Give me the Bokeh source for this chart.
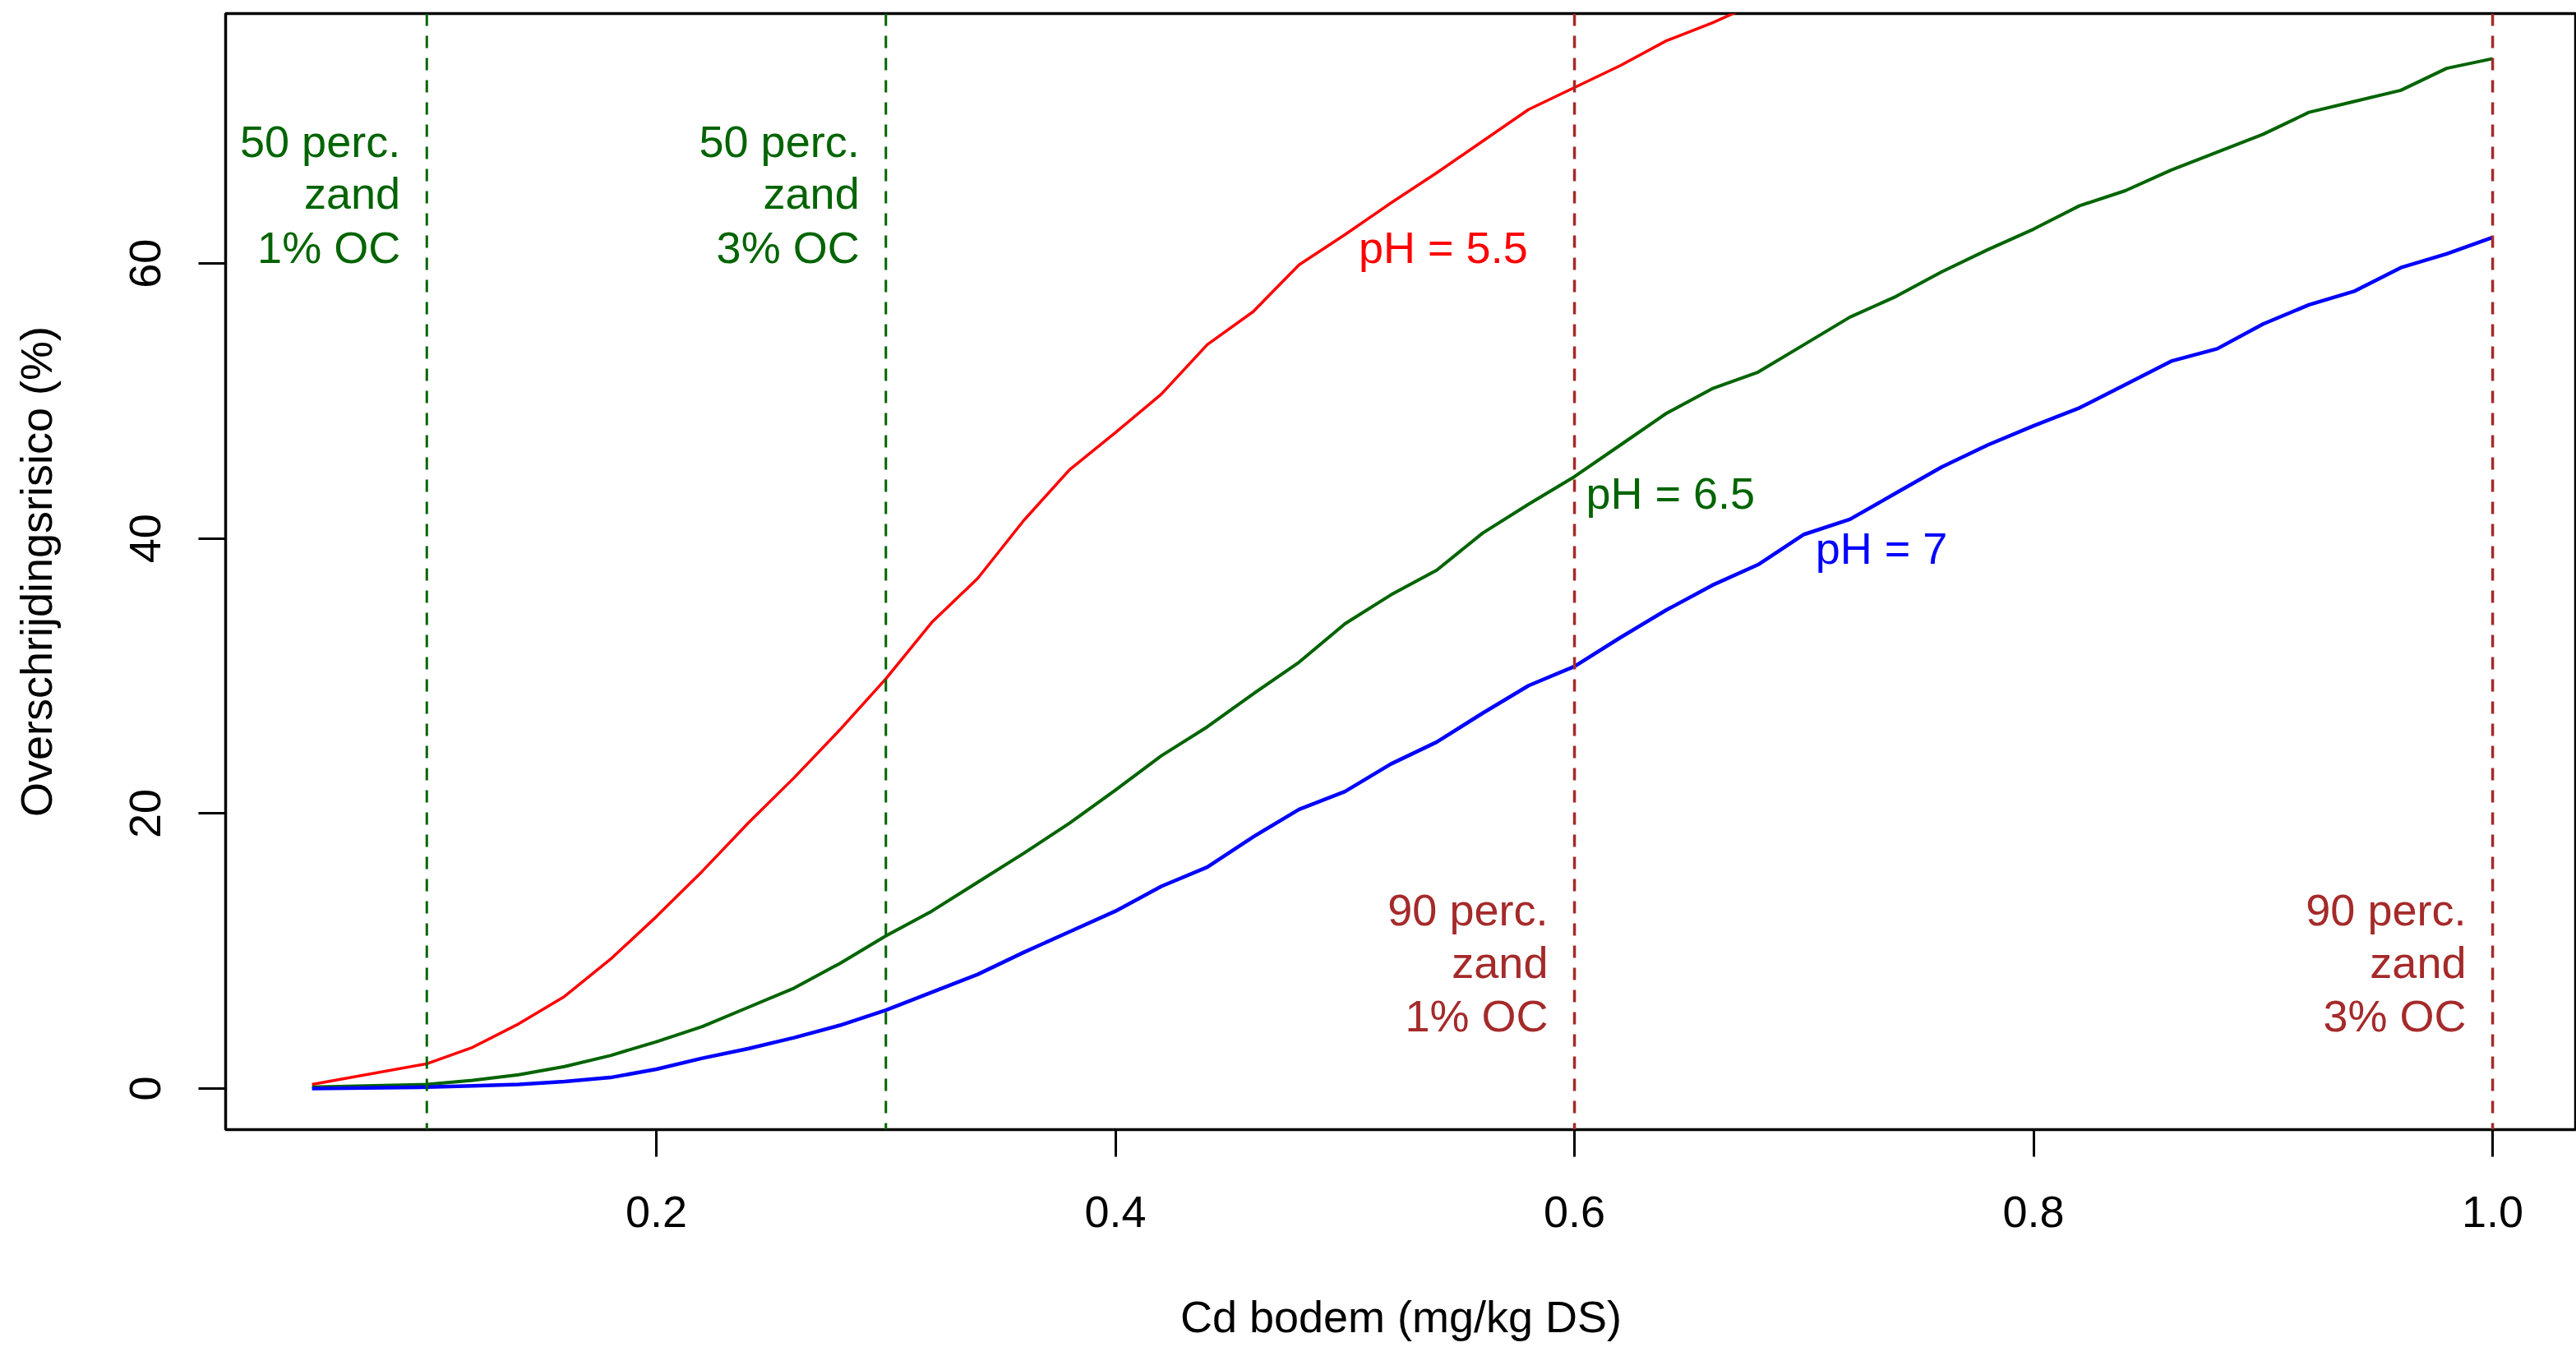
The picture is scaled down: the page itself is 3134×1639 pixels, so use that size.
from bokeh.plotting import figure
from bokeh.models import Span, Range1d, FixedTicker
from bokeh.core.properties import value
from bokeh.embed import file_html
from bokeh.resources import INLINE

# ---- data ----
cd = [0.05, 0.10, 0.12, 0.14, 0.16, 0.18, 0.20, 0.22, 0.24, 0.26, 0.28, 0.30,
      0.32, 0.34, 0.36, 0.38, 0.40, 0.42, 0.44, 0.46, 0.48, 0.50, 0.52, 0.54,
      0.56, 0.58, 0.60, 0.62, 0.64, 0.66, 0.68, 0.70, 0.72, 0.74, 0.76, 0.78,
      0.80, 0.82, 0.84, 0.86, 0.88, 0.90, 0.92, 0.94, 0.96, 0.98, 1.00]

risk_ph55 = [0.3, 1.8, 3.0, 4.7, 6.7, 9.4, 12.5, 15.8, 19.3, 22.6, 26.1, 29.8,
             33.9, 37.1, 41.3, 45.0, 47.7, 50.5, 54.1, 56.5, 59.9, 62.1, 64.4, 66.6,
             68.9, 71.2, 72.8, 74.4, 76.2, 77.5, 79.0]

risk_ph65 = [0.1, 0.3, 0.6, 1.0, 1.6, 2.4, 3.4, 4.5, 5.9, 7.3, 9.1, 11.1,
             12.9, 15.0, 17.1, 19.3, 21.7, 24.2, 26.3, 28.7, 31.0, 33.8, 35.9, 37.7,
             40.4, 42.5, 44.5, 46.8, 49.1, 50.9, 52.1, 54.1, 56.1, 57.6, 59.4, 61.0,
             62.5, 64.2, 65.3, 66.8, 68.1, 69.4, 71.0, 71.8, 72.6, 74.2, 74.9]

risk_ph7 = [0.0, 0.1, 0.2, 0.3, 0.5, 0.8, 1.4, 2.2, 2.9, 3.7, 4.6, 5.7,
            7.0, 8.3, 9.9, 11.4, 12.9, 14.7, 16.1, 18.3, 20.3, 21.6, 23.6, 25.2,
            27.3, 29.3, 30.7, 32.8, 34.8, 36.6, 38.1, 40.3, 41.4, 43.3, 45.2, 46.8,
            48.2, 49.5, 51.2, 52.9, 53.8, 55.6, 57.0, 58.0, 59.7, 60.7, 61.9]

x_ticks = [0.2, 0.4, 0.6, 0.8, 1.0]
x_tick_labels = ["0.2", "0.4", "0.6", "0.8", "1.0"]
y_ticks = [0, 20, 40, 60]
y_tick_labels = ["0", "20", "40", "60"]

ref50 = [0.1, 0.3]
ref90 = [0.6, 1.0]
label50 = [["50 perc.", "zand", "1% OC"], ["50 perc.", "zand", "3% OC"]]
label90 = [["90 perc.", "zand", "1% OC"], ["90 perc.", "zand", "3% OC"]]
curve_labels = ["pH = 5.5", "pH = 6.5", "pH = 7"]

RED = "#FF0000"
GREEN = "#006400"
BLUE = "#0000FF"
BROWN = "#A52A2A"
FONT = "Liberation Sans"
FS = "54px"

p = figure(width=3134, height=1639, output_backend="svg", toolbar_location=None,
           x_range=Range1d(0.01235, 1.0365), y_range=Range1d(-2.99, 78.18),
           min_border_left=274, min_border_right=0, min_border_top=16,
           min_border_bottom=265)
p.background_fill_color = "white"
p.border_fill_color = "white"
p.outline_line_color = "black"
p.outline_line_width = 3.5
p.xgrid.visible = False
p.ygrid.visible = False

for ax in (p.xaxis[0], p.yaxis[0]):
    ax.axis_line_color = None
    ax.major_tick_in = 0
    ax.major_tick_out = 33
    ax.major_tick_line_width = 3
    ax.major_tick_line_color = "black"
    ax.minor_tick_line_color = None
    ax.major_label_text_font = FONT
    ax.major_label_text_font_size = FS
    ax.major_label_text_color = "black"
    ax.axis_label_text_font = FONT
    ax.axis_label_text_font_size = FS
    ax.axis_label_text_font_style = "normal"
    ax.axis_label_text_color = "black"

p.xaxis[0].ticker = FixedTicker(ticks=x_ticks)
p.xaxis[0].major_label_overrides = {t: l for t, l in zip(x_ticks, x_tick_labels)}
p.xaxis[0].major_label_standoff = 48
p.xaxis[0].axis_label = "Cd bodem (mg/kg DS)"
p.xaxis[0].axis_label_standoff = 76

p.yaxis[0].ticker = FixedTicker(ticks=y_ticks)
p.yaxis[0].major_label_overrides = {t: l for t, l in zip(y_ticks, y_tick_labels)}
p.yaxis[0].major_label_orientation = "vertical"
p.yaxis[0].major_label_standoff = 46
p.yaxis[0].axis_label = "Overschrijdingsrisico (%)"
p.yaxis[0].axis_label_standoff = 82

# reference lines
for xv in ref50:
    p.add_layout(Span(location=xv, dimension="height", line_color=GREEN,
                      line_width=3, line_dash="15 12"))
for xv in ref90:
    p.add_layout(Span(location=xv, dimension="height", line_color=BROWN,
                      line_width=3.5, line_dash="15 12"))

# curves
p.line(cd[:len(risk_ph55)], risk_ph55, line_color=RED, line_width=3.5)
p.line(cd, risk_ph65, line_color=GREEN, line_width=4)
p.line(cd, risk_ph7, line_color=BLUE, line_width=4.5)

# reference line labels (right aligned, just left of the line)
line_ys = [68.9, 65.1, 61.2]
for xv, lines in zip(ref50, label50):
    p.text(x=[xv - 0.0115] * 3, y=line_ys, text=lines, text_align="right",
           text_baseline="middle", text_color=GREEN, text_font=value(FONT),
           text_font_size=FS)
low_ys = [13.0, 9.15, 5.3]
for xv, lines in zip(ref90, label90):
    p.text(x=[xv - 0.0115] * 3, y=low_ys, text=lines, text_align="right",
           text_baseline="middle", text_color=BROWN, text_font=value(FONT),
           text_font_size=FS)

# curve labels
p.text(x=[0.506, 0.605, 0.705], y=[61.2, 43.3, 39.3], text=curve_labels,
       text_align="left", text_baseline="middle",
       text_color=[RED, GREEN, BLUE], text_font=value(FONT), text_font_size=FS)

open("out.html", "w").write(file_html(p, INLINE))
